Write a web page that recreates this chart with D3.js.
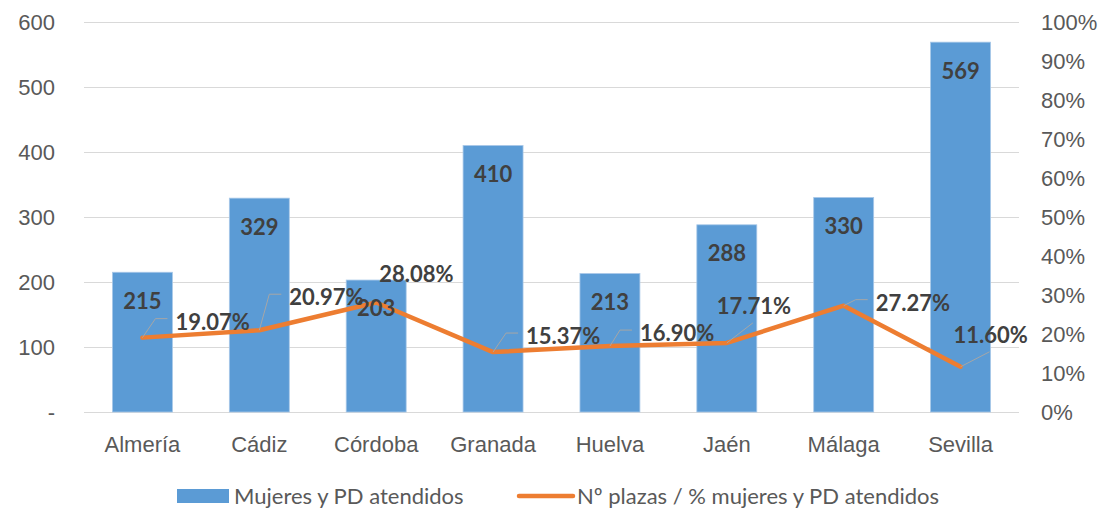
<!DOCTYPE html>
<html>
<head>
<meta charset="utf-8">
<script src="https://cdn.jsdelivr.net/npm/d3@7"></script>
<style>
  body { margin: 0; background: #fff; }
  svg { display: block; font-family: Lato, "Open Sans", sans-serif; }
</style>
</head>
<body>
<svg id="svg" width="1100" height="509"></svg>
<script>
const categories = ["Almería", "Cádiz", "Córdoba", "Granada", "Huelva", "Jaén", "Málaga", "Sevilla"];
const atendidos = [215, 329, 203, 410, 213, 288, 330, 569];
const ratio = [0.1907, 0.2097, 0.2808, 0.1537, 0.1690, 0.1771, 0.2727, 0.1160];
const leftTicks = [0, 100, 200, 300, 400, 500, 600];
const rightTicks = [0, 0.1, 0.2, 0.3, 0.4, 0.5, 0.6, 0.7, 0.8, 0.9, 1];
const seriesNames = ["Mujeres y PD atendidos", "Nº plazas / % mujeres y PD atendidos"];

// where Excel put the % labels, relative to each point (layout only)
const labelPlace = [
    {dx: 33, dy: -16, lead: "elbow"},
    {dx: 30, dy: -33, lead: "elbow"},
    {dx: 3, dy: -28, lead: "none"},
    {dx: 33, dy: -16, lead: "elbow"},
    {dx: 30, dy: -13, lead: "elbow"},
    {dx: -10, dy: -37, lead: "below"},
    {dx: 32, dy: -3, lead: "elbow"},
    {dx: -7, dy: -32, lead: "below"}
];

const margin = {top: 22, left: 84, bottom: 97, right: 81};
const width = 1100, height = 509;
const fs = 22;
const svg = d3.select("#svg");

const x = d3.scaleBand()
    .domain(categories)
    .range([margin.left, width - margin.right])
    .paddingInner(0.487)
    .paddingOuter(0.2435);
const y = d3.scaleLinear().domain([0, 600]).range([height - margin.bottom, margin.top]);
const y2 = d3.scaleLinear().domain([0, 1]).range([height - margin.bottom, margin.top]);

const gray = "#595959";

// gridlines
svg.append("g")
    .selectAll("line")
    .data(leftTicks)
    .join("line")
    .attr("x1", margin.left)
    .attr("x2", width - margin.right)
    .attr("y1", d => y(d) + 0.5)
    .attr("y2", d => y(d) + 0.5)
    .attr("stroke", "#d9d9d9")
    .attr("stroke-width", 1);

// left axis
const yAxis = d3.axisLeft(y).tickValues(leftTicks).tickSize(0).tickPadding(0)
    .tickFormat(d => d === 0 ? "-" : d);
svg.append("g")
    .attr("class", "y axis")
    .attr("transform", "translate(" + [55, 0] + ")")
    .call(yAxis)
    .call(g => g.select(".domain").remove())
    .call(g => g.selectAll("text").attr("fill", gray).attr("font-size", fs).attr("font-family", null)
        .attr("dy", "0.36em"));

// right axis
const y2Axis = d3.axisRight(y2).tickValues(rightTicks).tickSize(0).tickPadding(0)
    .tickFormat(d3.format(".0%"));
svg.append("g")
    .attr("class", "y2 axis")
    .attr("transform", "translate(" + [1041, 0] + ")")
    .call(y2Axis)
    .call(g => g.select(".domain").remove())
    .call(g => g.selectAll("text").attr("fill", gray).attr("font-size", fs).attr("font-family", null)
        .attr("dy", "0.36em"));

// x axis
const xAxis = d3.axisBottom(x).tickSize(0).tickPadding(0);
svg.append("g")
    .attr("class", "x axis")
    .attr("transform", "translate(" + [0, 436] + ")")
    .call(xAxis)
    .call(g => g.select(".domain").remove())
    .call(g => g.selectAll("text").attr("fill", gray).attr("font-size", fs).attr("font-family", null)
        .attr("dy", "0.36em").attr("y", 8));

// bars
svg.append("g")
    .selectAll("rect")
    .data(atendidos)
    .join("rect")
    .attr("x", (d, i) => x(categories[i]))
    .attr("y", d => y(d))
    .attr("width", x.bandwidth())
    .attr("height", d => y(0) - y(d))
    .attr("fill", "#5b9bd5")
    .attr("stroke", "#a8c8e8")
    .attr("stroke-width", 0.8);

// line
const cx = i => x(categories[i]) + x.bandwidth() / 2;
const line = d3.line()
    .x((d, i) => cx(i))
    .y(d => y2(d));
svg.append("path")
    .datum(ratio)
    .attr("d", line)
    .attr("fill", "none")
    .attr("stroke", "#ed7d31")
    .attr("stroke-width", 4.5)
    .attr("stroke-linejoin", "round")
    .attr("stroke-linecap", "round");

// leader lines
const leaders = ratio.map((v, i) => ({v, i, p: labelPlace[i]}))
    .filter(d => d.p.lead !== "none");
svg.append("g")
    .selectAll("polyline")
    .data(leaders)
    .join("polyline")
    .attr("points", d => {
        const px = cx(d.i), py = y2(d.v);
        const lx = px + d.p.dx, ly = py + d.p.dy;
        if (d.p.lead === "elbow") {
            return [[px, py], [lx - 20, ly - 3], [lx - 8, ly - 3]].join(" ");
        }
        return [[px, py], [lx + 36, ly + 17]].join(" ");
    })
    .attr("fill", "none")
    .attr("stroke", "#a6a6a6")
    .attr("stroke-width", 1);

// bar labels (drawn over the line, like Excel)
svg.append("g")
    .selectAll("text")
    .data(atendidos)
    .join("text")
    .attr("x", (d, i) => x(categories[i]) + x.bandwidth() / 2)
    .attr("y", d => y(d) + 28.5)
    .attr("dy", "0.36em")
    .attr("text-anchor", "middle")
    .attr("font-size", fs)
    .attr("font-weight", "bold")
    .attr("fill", "#404040")
    .text(d => d);

// line labels
svg.append("g")
    .selectAll("text")
    .data(ratio)
    .join("text")
    .attr("x", (d, i) => cx(i) + labelPlace[i].dx)
    .attr("y", (d, i) => y2(d) + labelPlace[i].dy)
    .attr("dy", "0.36em")
    .attr("font-size", fs)
    .attr("font-weight", "bold")
    .attr("fill", "#404040")
    .text(d => d3.format(".2%")(d));

// legend
const legend = svg.append("g").attr("class", "legend");
legend.append("rect")
    .attr("x", 177).attr("y", 489).attr("width", 52).attr("height", 14)
    .attr("fill", "#5b9bd5");
legend.append("text")
    .attr("x", 234).attr("y", 496).attr("dy", "0.36em")
    .attr("font-size", fs).attr("fill", gray)
    .text(seriesNames[0]);
legend.append("line")
    .attr("x1", 519).attr("x2", 573).attr("y1", 496).attr("y2", 496)
    .attr("stroke", "#ed7d31").attr("stroke-width", 4.5).attr("stroke-linecap", "round");
legend.append("text")
    .attr("x", 577).attr("y", 496).attr("dy", "0.36em")
    .attr("font-size", fs).attr("fill", gray)
    .text(seriesNames[1]);
</script>
</body>
</html>
